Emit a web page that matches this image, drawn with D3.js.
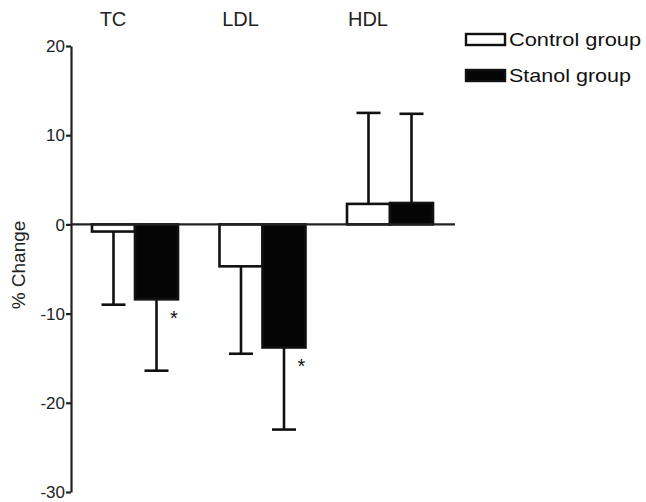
<!DOCTYPE html>
<html><head><meta charset="utf-8">
<script src="https://cdn.jsdelivr.net/npm/d3@7"></script>
<style>body{margin:0;background:#fff}svg{display:block}text{font-family:"Liberation Sans",Arial,sans-serif}</style>
</head><body><svg id="c" width="646" height="502"></svg>
<script>
const categories = ["TC", "LDL", "HDL"];
const seriesNames = ["Control group", "Stanol group"];
const controlValues = [-0.8, -4.7, 2.3];
const controlErrorEnds = [-9.0, -14.5, 12.5];
const stanolValues = [-8.4, -13.8, 2.4];
const stanolErrorEnds = [-16.4, -23.0, 12.4];
const significant = [true, true, false];
const yTicks = [20, 10, 0, -10, -20, -30];

const svg = d3.select("#c");
const y = d3.scaleLinear().domain([-30, 20]).range([492, 46]);
const x0 = d3.scaleBand().domain(categories).range([92, 433]).paddingInner(0.3255).paddingOuter(0);
const x1 = d3.scaleBand().domain(seriesNames).range([0, x0.bandwidth()]);
const fills = {"Control group": "#fff", "Stanol group": "#050505"};
const ink = "#111";

// y axis
const ax = svg.append("g").attr("transform", "translate(71,0)")
  .call(d3.axisLeft(y).tickValues(yTicks).tickSize(5).tickSizeOuter(0).tickFormat(d3.format("d")));
ax.select(".domain").attr("stroke", "#222").attr("stroke-width", 2.2);
ax.selectAll(".tick line").attr("stroke", "#222").attr("stroke-width", 2.2);
ax.selectAll(".tick text").attr("font-size", 17).attr("fill", "#222").attr("x", -6).attr("dy", "0.34em")
  .text(d => d < 0 ? "-" + Math.abs(d) : d);

svg.append("text").attr("transform", "translate(25,265) rotate(-90)").attr("text-anchor", "middle")
  .attr("font-size", 19).attr("fill", "#222").text("% Change");

const data = [];
categories.forEach((c, i) => {
  data.push({cat: c, s: seriesNames[0], v: controlValues[i], e: controlErrorEnds[i], sig: false});
  data.push({cat: c, s: seriesNames[1], v: stanolValues[i], e: stanolErrorEnds[i], sig: significant[i]});
});

const g = svg.append("g");
// error bars
data.forEach(d => {
  const cx = x0(d.cat) + x1(d.s) + x1.bandwidth() / 2;
  g.append("line").attr("x1", cx).attr("x2", cx).attr("y1", y(d.v)).attr("y2", y(d.e))
    .attr("stroke", ink).attr("stroke-width", 2.6);
  g.append("line").attr("x1", cx - 12).attr("x2", cx + 12).attr("y1", y(d.e)).attr("y2", y(d.e))
    .attr("stroke", ink).attr("stroke-width", 2.6);
});
// bars
g.selectAll("rect.bar").data(data).enter().append("rect").attr("class", "bar")
  .attr("x", d => x0(d.cat) + x1(d.s))
  .attr("width", x1.bandwidth())
  .attr("y", d => Math.min(y(d.v), y(0)))
  .attr("height", d => Math.abs(y(d.v) - y(0)))
  .attr("fill", d => fills[d.s]).attr("stroke", ink).attr("stroke-width", 2.6);

// zero line
svg.append("line").attr("x1", 71).attr("x2", 455).attr("y1", y(0)).attr("y2", y(0))
  .attr("stroke", "#222").attr("stroke-width", 2.2);

// significance stars
data.filter(d => d.sig).forEach(d => {
  const xr = x0(d.cat) + x1(d.s) + x1.bandwidth();
  svg.append("text").attr("x", xr - 4).attr("y", y(d.v) + 26).attr("text-anchor", "middle")
    .attr("font-size", 20).attr("fill", ink).text("*");
});

// category labels
categories.forEach(c => {
  svg.append("text").attr("x", x0(c) + x0.bandwidth() / 2 - 22).attr("y", 26).attr("text-anchor", "middle")
    .attr("font-size", 20).attr("fill", "#222").text(c);
});

// legend
const legendWidths = [132, 122];
seriesNames.forEach((s, i) => {
  const ly = 34 + i * 36;
  svg.append("rect").attr("x", 466).attr("y", ly).attr("width", 39).attr("height", 11)
    .attr("fill", fills[s]).attr("stroke", ink).attr("stroke-width", 2.4);
  svg.append("text").attr("x", 509).attr("y", ly + 12).attr("font-size", 18.5).attr("fill", "#111")
    .attr("textLength", legendWidths[i]).attr("lengthAdjust", "spacingAndGlyphs").text(s);
});
</script></body></html>
